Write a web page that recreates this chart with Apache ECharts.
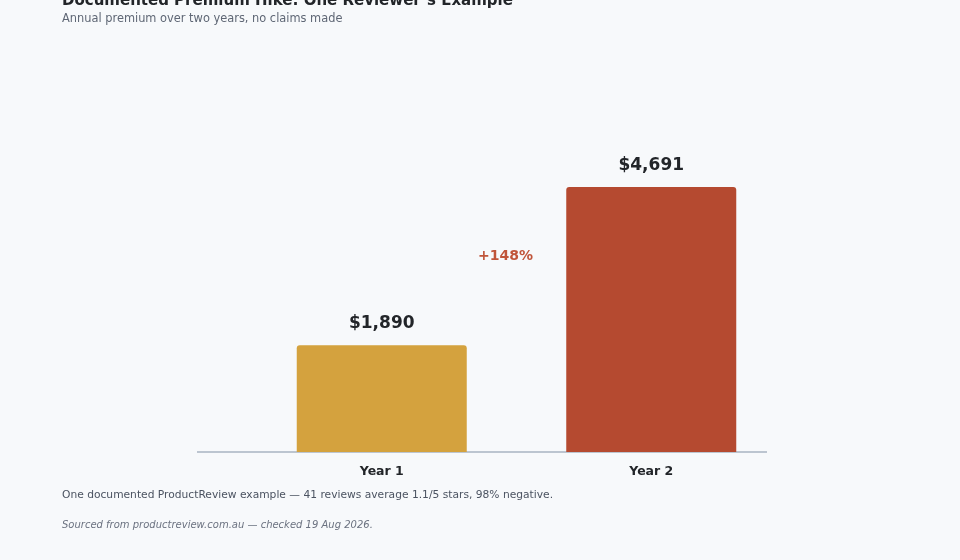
<!DOCTYPE html>
<html lang="en">
<head>
<meta charset="UTF-8">
<title>Documented Premium Hike</title>
<script src="https://cdn.jsdelivr.net/npm/echarts@6/dist/echarts.min.js"></script>
<style>
  html, body { margin: 0; padding: 0; background: #f7f9fb; }
  #chart { width: 960px; height: 560px; }
</style>
</head>
<body>
<div id="chart"></div>
<script>
var categories = ['Year 1', 'Year 2'];
var premiums = [1890, 4691];
var barColors = ['#d4a23e', '#b54a30'];
var changeLabel = '+148%';
var changeLabelValue = 3470;

var chart = echarts.init(document.getElementById('chart'));
var font = 'DejaVu Sans, sans-serif';

var option = {
  backgroundColor: '#f7f9fb',
  textStyle: { fontFamily: font },
  title: {
    text: 'Documented Premium Hike: One Reviewer\u2019s Example',
    subtext: 'Annual premium over two years, no claims made',
    left: 57,
    top: -11,
    itemGap: 5,
    textStyle: { fontSize: 15, fontWeight: 'bold', color: '#222529', fontFamily: font },
    subtextStyle: { fontSize: 11.4, color: '#5f6775', fontFamily: font }
  },
  grid: { left: 247, right: 174, top: 113, bottom: 108 },
  xAxis: {
    type: 'category',
    data: categories,
    axisLine: { show: false },
    axisTick: { show: false },
    axisLabel: { fontSize: 12.5, fontWeight: 'bold', color: '#222529', margin: 13, fontFamily: font }
  },
  yAxis: {
    type: 'value',
    min: 0,
    max: 6000,
    show: false,
    splitLine: { show: false }
  },
  series: [{
    type: 'bar',
    barWidth: 170,
    data: premiums.map(function (v, i) {
      return { value: v, itemStyle: { color: barColors[i] } };
    }),
    itemStyle: { borderRadius: [3, 3, 0, 0] },
    label: {
      show: true,
      position: 'top',
      distance: 13,
      fontSize: 17,
      fontWeight: 'bold',
      color: '#222529',
      fontFamily: font,
      formatter: function (p) { return '$' + p.value.toLocaleString('en-US'); }
    }
  }]
};
chart.setOption(option);

// axis baseline and change annotation, placed from the chart's own scales
var p0 = chart.convertToPixel({ gridIndex: 0 }, [categories[0], 0]);
var p1 = chart.convertToPixel({ gridIndex: 0 }, [categories[1], changeLabelValue]);
var midX = (p0[0] + p1[0]) / 2;
chart.setOption({
  graphic: [
    {
      type: 'line',
      shape: { x1: 197, y1: p0[1], x2: 767, y2: p0[1] },
      style: { stroke: '#a9b3c2', lineWidth: 1.5 }
    },
    {
      type: 'text',
      x: midX - 11,
      y: p1[1],
      style: {
        text: changeLabel,
        fill: '#c0553a',
        font: 'bold 14px ' + font,
        textAlign: 'center',
        textVerticalAlign: 'middle'
      }
    },
    {
      type: 'text',
      left: 62,
      top: 490,
      style: {
        text: 'One documented ProductReview example \u2014 41 reviews average 1.1/5 stars, 98% negative.',
        fill: '#4b5361',
        font: '10.7px ' + font
      }
    },
    {
      type: 'text',
      left: 62,
      top: 520,
      style: {
        text: 'Sourced from productreview.com.au \u2014 checked 19 Aug 2026.',
        fill: '#6b7280',
        font: 'italic 10px ' + font
      }
    }
  ]
});
</script>
</body>
</html>
